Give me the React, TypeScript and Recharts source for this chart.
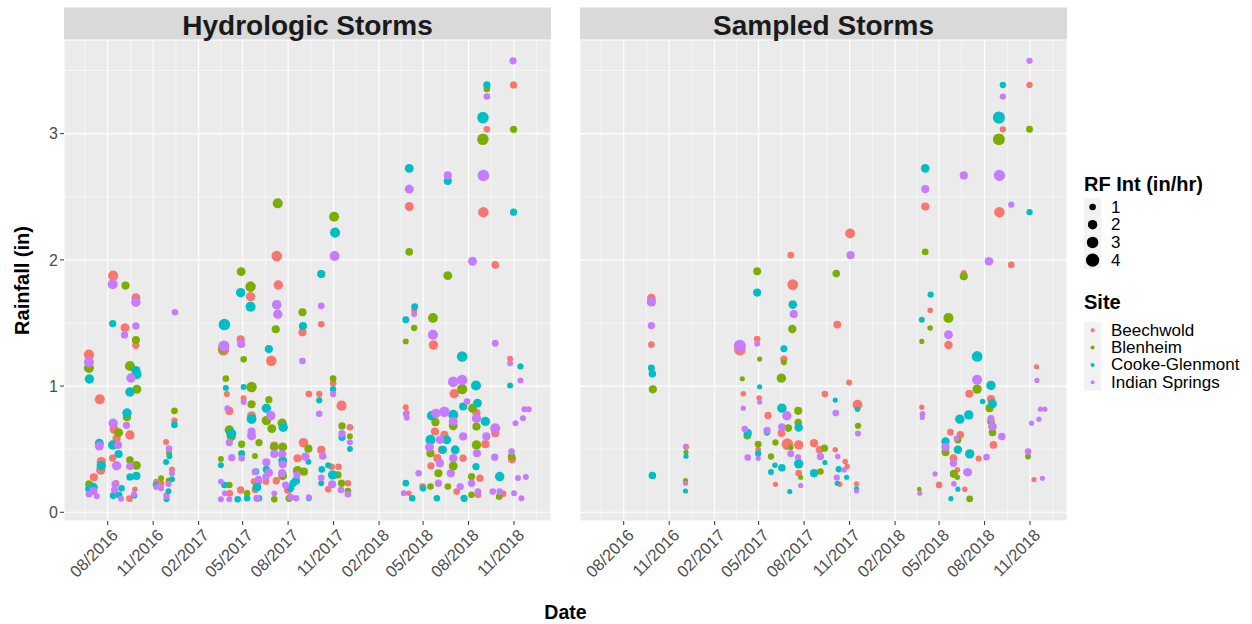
import { ScatterChart, Scatter, XAxis, YAxis, ZAxis, CartesianGrid, ReferenceLine } from "recharts";

// [date, rainfall (in), rainfall intensity (in/hr)]
type Pt = [string, number, number];

const hydroBeechwold: Pt[] = [
  ["2016-08-12", 1.875, 2.3], ["2016-09-27", 1.7, 1.8], ["2016-09-05", 1.463, 1.8], ["2016-09-27", 1.323, 1.2],
  ["2016-06-24", 1.249, 2.3], ["2016-07-16", 0.895, 2.3], ["2016-12-14", 0.726, 0.9], ["2016-08-14", 0.657, 1.8],
  ["2016-09-15", 0.612, 2.0], ["2016-08-19", 0.586, 1.5], ["2016-08-11", 0.43, 1.2], ["2016-07-19", 0.401, 2.0],
  ["2016-07-18", 0.335, 2.0], ["2016-07-04", 0.277, 1.5], ["2016-08-18", 0.23, 1.0], ["2016-08-14", 0.137, 1.0],
  ["2016-09-25", 0.182, 0.7], ["2016-09-14", 0.108, 1.0], ["2016-11-27", 0.557, 0.8], ["2016-12-09", 0.34, 0.8],
  ["2016-11-07", 0.243, 0.8], ["2016-11-18", 0.23, 0.8], ["2016-11-28", 0.135, 0.8],
  ["2017-07-09", 2.031, 2.5], ["2017-05-17", 1.708, 2.0], ["2017-07-12", 1.801, 2.0], ["2017-10-07", 1.49, 1.0],
  ["2017-03-23", 1.286, 2.8], ["2017-04-27", 1.371, 1.5], ["2017-06-28", 1.201, 2.5], ["2017-03-30", 0.937, 0.8],
  ["2017-04-04", 0.803, 1.5], ["2017-05-03", 0.903, 0.8], ["2017-05-19", 0.766, 1.8], ["2017-09-01", 0.552, 2.0],
  ["2017-11-17", 0.845, 2.3], ["2017-10-31", 1.022, 1.0], ["2017-10-03", 0.937, 0.9], ["2017-12-04", 0.674, 1.0],
  ["2017-10-07", 0.494, 1.5], ["2017-10-28", 0.361, 1.0], ["2017-11-11", 0.361, 1.0], ["2017-10-21", 0.182, 1.0],
  ["2017-11-30", 0.23, 1.0], ["2017-07-04", 0.528, 1.5], ["2017-08-20", 0.428, 1.5], ["2017-08-30", 1.426, 1.5],
  ["2017-04-05", 0.15, 1.0], ["2017-04-27", 0.177, 1.2], ["2017-05-24", 0.243, 1.0], ["2017-05-26", 0.177, 1.0],
  ["2017-06-03", 0.243, 1.0], ["2017-06-17", 0.243, 1.0], ["2017-07-08", 0.25, 1.2], ["2017-08-01", 0.177, 1.5],
  ["2017-09-12", 0.937, 1.0],
  ["2018-10-31", 3.386, 1.2], ["2018-09-07", 3.034, 1.0], ["2018-04-03", 2.423, 1.8], ["2018-08-31", 2.378, 2.5],
  ["2018-09-24", 1.96, 1.3], ["2018-04-13", 1.6, 0.8], ["2018-05-22", 1.325, 2.0], ["2018-10-24", 1.217, 0.8],
  ["2018-11-14", 1.156, 0.8], ["2018-07-03", 0.939, 2.0], ["2018-08-17", 0.786, 1.5], ["2018-09-24", 0.627, 1.5],
  ["2018-09-04", 0.54, 1.5], ["2018-05-25", 0.64, 1.5], ["2018-06-13", 0.614, 1.5], ["2018-06-08", 0.495, 1.5],
  ["2018-05-30", 0.429, 1.5], ["2018-05-17", 0.368, 1.2], ["2018-07-21", 0.429, 1.2], ["2018-10-28", 0.421, 1.5],
  ["2018-03-27", 0.833, 0.8], ["2018-03-29", 0.786, 0.8], ["2018-04-02", 0.151, 0.7], ["2018-04-30", 0.204, 1.0],
  ["2018-07-08", 0.164, 1.0], ["2018-08-24", 0.27, 1.2], ["2018-08-20", 0.138, 1.0], ["2018-10-10", 0.146, 1.0],
];

const hydroBlenheim: Pt[] = [
  ["2016-09-06", 1.796, 1.5], ["2016-09-27", 1.365, 1.5], ["2016-06-24", 1.143, 2.3], ["2016-09-15", 1.159, 2.3],
  ["2016-09-29", 0.975, 1.8], ["2016-12-14", 0.803, 1.0], ["2016-09-09", 0.753, 1.5], ["2016-08-23", 0.631, 1.8],
  ["2016-09-15", 0.414, 1.3], ["2016-09-28", 0.372, 1.8], ["2016-06-24", 0.224, 1.3], ["2016-12-03", 0.472, 0.8],
  ["2016-11-17", 0.269, 0.8], ["2016-12-02", 0.25, 0.8],
  ["2017-07-11", 2.448, 2.3], ["2017-11-02", 2.342, 2.3], ["2017-04-28", 1.907, 1.8], ["2017-05-17", 1.788, 2.5],
  ["2017-08-30", 1.585, 1.5], ["2017-07-07", 1.45, 1.5], ["2017-03-23", 1.3, 2.5], ["2017-05-03", 1.212, 1.0],
  ["2017-03-28", 1.059, 1.0], ["2017-05-19", 0.993, 2.5], ["2017-05-19", 0.856, 1.5], ["2017-06-23", 0.892, 1.2],
  ["2017-06-18", 0.726, 2.0], ["2017-06-29", 0.663, 1.8], ["2017-07-20", 0.705, 2.0], ["2017-04-04", 0.652, 2.0],
  ["2017-04-08", 0.599, 1.8], ["2017-04-29", 0.539, 1.2], ["2017-06-03", 0.552, 1.2], ["2017-09-11", 0.504, 1.5],
  ["2017-10-31", 1.059, 1.0], ["2017-11-18", 0.684, 1.2], ["2017-12-04", 0.602, 0.8], ["2017-03-18", 0.422, 0.8],
  ["2017-04-29", 0.465, 1.0], ["2017-05-26", 0.446, 0.8], ["2017-07-04", 0.518, 1.8], ["2017-07-21", 0.518, 1.8],
  ["2017-07-21", 0.29, 1.8], ["2017-08-20", 0.33, 2.0], ["2017-09-02", 0.322, 1.5], ["2017-11-10", 0.296, 1.2],
  ["2017-11-17", 0.23, 1.2], ["2017-11-30", 0.169, 1.0], ["2017-04-04", 0.216, 1.0], ["2017-05-10", 0.15, 1.0],
  ["2017-07-04", 0.103, 1.0], ["2017-08-03", 0.111, 1.2], ["2017-10-07", 1.888, 1.3],
  ["2018-09-07", 3.354, 1.0], ["2018-08-30", 2.955, 3.0], ["2018-10-31", 3.034, 1.2], ["2018-04-03", 2.063, 1.3],
  ["2018-06-20", 1.875, 1.8], ["2018-04-13", 1.46, 0.9], ["2018-03-27", 1.354, 0.8], ["2018-05-21", 1.54, 2.2],
  ["2018-07-19", 0.976, 2.5], ["2018-08-09", 0.824, 1.8], ["2018-05-26", 0.714, 1.5], ["2018-07-01", 0.685, 1.8],
  ["2018-08-17", 0.68, 1.5], ["2018-05-16", 0.467, 1.5], ["2018-07-01", 0.367, 1.8], ["2018-06-01", 0.309, 1.5],
  ["2018-08-17", 0.534, 2.0], ["2018-10-27", 0.442, 1.3], ["2018-05-16", 0.204, 1.0], ["2018-06-20", 0.204, 1.0],
  ["2018-08-07", 0.283, 1.2], ["2018-08-07", 0.138, 1.0], ["2018-10-02", 0.124, 1.0],
];

const hydroCooke: Pt[] = [
  ["2016-08-11", 1.495, 1.2], ["2016-06-25", 1.056, 2.0], ["2016-09-27", 1.122, 2.0], ["2016-09-29", 1.093, 2.0],
  ["2016-09-15", 0.953, 2.0], ["2016-12-14", 0.692, 1.0], ["2016-09-09", 0.787, 2.0], ["2016-07-15", 0.547, 1.8],
  ["2016-08-11", 0.533, 2.0], ["2016-08-23", 0.462, 1.5], ["2016-07-19", 0.369, 2.0], ["2016-09-15", 0.28, 1.2],
  ["2016-09-28", 0.288, 1.5], ["2016-07-03", 0.198, 1.8], ["2016-06-24", 0.187, 1.3], ["2016-08-29", 0.19, 1.0],
  ["2016-08-12", 0.132, 1.0], ["2016-08-24", 0.137, 1.0], ["2016-09-24", 0.132, 0.8], ["2016-12-04", 0.444, 0.8],
  ["2016-11-27", 0.399, 0.8], ["2016-12-09", 0.261, 0.8], ["2016-11-06", 0.219, 0.8], ["2016-12-02", 0.166, 0.8],
  ["2016-11-28", 0.103, 0.8],
  ["2017-11-04", 2.216, 2.3], ["2017-04-27", 1.74, 2.0], ["2017-05-17", 1.629, 2.3], ["2017-10-07", 1.888, 1.5],
  ["2017-03-25", 1.487, 3.0], ["2017-08-31", 1.476, 1.5], ["2017-06-23", 1.294, 1.5], ["2017-07-09", 1.643, 1.8],
  ["2017-03-28", 0.985, 0.8], ["2017-05-03", 0.993, 0.8], ["2017-05-19", 0.739, 2.2], ["2017-06-18", 0.824, 2.0],
  ["2017-07-22", 0.674, 2.0], ["2017-04-08", 0.623, 2.3], ["2017-09-11", 0.401, 0.8], ["2017-10-31", 0.975, 0.9],
  ["2017-10-03", 0.887, 0.9], ["2017-11-18", 0.594, 1.2], ["2017-12-04", 0.502, 0.8], ["2017-10-08", 0.34, 1.0],
  ["2017-10-07", 0.23, 0.8], ["2017-10-21", 0.372, 0.8], ["2017-10-30", 0.296, 2.0], ["2017-03-18", 0.372, 0.8],
  ["2017-04-29", 0.465, 1.0], ["2017-05-28", 0.322, 1.0], ["2017-06-18", 0.34, 1.2], ["2017-07-21", 0.41, 1.8],
  ["2017-08-17", 0.25, 1.5], ["2017-08-11", 0.23, 1.2], ["2017-08-06", 0.19, 1.2], ["2017-03-25", 0.216, 1.0],
  ["2017-04-21", 0.103, 1.0], ["2017-05-10", 0.111, 1.0], ["2017-05-30", 0.2, 1.8], ["2017-06-03", 0.111, 1.0],
  ["2017-09-12", 0.111, 0.8],
  ["2018-09-07", 3.386, 1.2], ["2018-08-30", 3.127, 3.0], ["2018-04-03", 2.725, 1.8], ["2018-06-20", 2.625, 1.5],
  ["2018-10-31", 2.378, 1.2], ["2018-04-14", 1.629, 1.1], ["2018-03-27", 1.526, 1.1], ["2018-07-19", 1.235, 2.5],
  ["2018-11-14", 1.156, 0.8], ["2018-10-24", 1.005, 0.8], ["2018-08-16", 1.005, 2.3], ["2018-08-19", 0.865, 1.8],
  ["2018-07-21", 0.838, 1.5], ["2018-05-18", 0.765, 2.0], ["2018-07-01", 0.772, 2.3], ["2018-09-04", 0.72, 2.0],
  ["2018-05-16", 0.574, 2.3], ["2018-06-18", 0.574, 1.8], ["2018-07-05", 0.495, 1.8], ["2018-06-10", 0.495, 1.5],
  ["2018-08-16", 0.362, 1.2], ["2018-10-03", 0.283, 2.0], ["2018-03-27", 0.231, 1.0], ["2018-04-09", 0.111, 1.0],
  ["2018-05-01", 0.19, 1.0], ["2018-05-29", 0.111, 1.0], ["2018-07-23", 0.111, 1.2],
];

const hydroIndian: Pt[] = [
  ["2016-08-11", 1.807, 2.3], ["2016-09-27", 1.664, 2.0], ["2016-12-15", 1.585, 1.0], ["2016-09-04", 1.405, 1.2],
  ["2016-09-27", 1.476, 1.2], ["2016-06-24", 1.19, 2.3], ["2016-09-17", 1.064, 2.0], ["2016-08-12", 0.705, 2.0],
  ["2016-09-08", 0.689, 1.2], ["2016-07-15", 0.525, 1.8], ["2016-08-22", 0.533, 1.5], ["2016-08-19", 0.369, 2.0],
  ["2016-09-15", 0.364, 1.3], ["2016-07-03", 0.169, 1.5], ["2016-06-24", 0.143, 1.0], ["2016-07-10", 0.127, 0.8],
  ["2016-08-16", 0.224, 1.2], ["2016-08-15", 0.177, 1.2], ["2016-08-28", 0.108, 0.8], ["2016-09-23", 0.143, 0.8],
  ["2016-12-03", 0.504, 1.0], ["2016-12-09", 0.309, 0.8], ["2016-11-07", 0.2, 0.8], ["2016-11-17", 0.19, 0.8],
  ["2016-12-02", 0.224, 0.8], ["2016-11-28", 0.124, 0.8],
  ["2017-11-03", 2.031, 2.3], ["2017-07-09", 1.645, 2.0], ["2017-07-11", 1.569, 2.0], ["2017-10-07", 1.635, 1.0],
  ["2017-08-30", 1.199, 1.0], ["2017-03-24", 1.318, 2.8], ["2017-04-28", 1.334, 1.5], ["2017-03-31", 0.824, 0.8],
  ["2017-05-03", 0.874, 0.8], ["2017-06-27", 0.766, 2.0], ["2017-04-04", 0.552, 1.2], ["2017-05-19", 0.639, 1.5],
  ["2017-05-19", 0.605, 1.8], ["2017-09-05", 0.441, 1.5], ["2017-10-31", 0.937, 0.9], ["2017-10-03", 0.781, 1.0],
  ["2017-11-18", 0.623, 1.2], ["2017-12-04", 0.555, 0.8], ["2017-10-10", 0.446, 1.3], ["2017-10-07", 0.274, 1.0],
  ["2017-10-29", 0.222, 1.5], ["2017-11-16", 0.177, 1.0], ["2017-11-30", 0.143, 1.0], ["2017-04-09", 0.433, 1.2],
  ["2017-04-29", 0.428, 1.0], ["2017-05-26", 0.32, 1.0], ["2017-06-18", 0.396, 1.5], ["2017-06-23", 0.314, 1.5],
  ["2017-06-17", 0.28, 1.2], ["2017-07-04", 0.462, 1.5], ["2017-07-20", 0.462, 1.5], ["2017-07-21", 0.38, 1.5],
  ["2017-07-20", 0.31, 1.5], ["2017-08-19", 0.296, 1.2], ["2017-03-18", 0.243, 0.8], ["2017-03-26", 0.15, 0.8],
  ["2017-03-18", 0.103, 0.8], ["2017-04-04", 0.103, 0.8], ["2017-05-30", 0.111, 1.2], ["2017-06-02", 0.26, 1.2],
  ["2017-07-04", 0.15, 0.8], ["2017-07-27", 0.216, 1.2], ["2017-08-06", 0.12, 1.0], ["2017-08-17", 0.111, 1.0],
  ["2017-09-12", 0.12, 0.8],
  ["2018-10-30", 3.577, 1.2], ["2018-09-07", 3.294, 1.0], ["2018-04-03", 2.561, 1.8], ["2018-06-20", 2.669, 1.5],
  ["2018-08-31", 2.669, 3.0], ["2018-08-09", 1.989, 1.8], ["2018-04-13", 1.571, 0.8], ["2018-05-21", 1.407, 2.3],
  ["2018-09-24", 1.34, 1.1], ["2018-10-24", 1.18, 0.8], ["2018-11-14", 1.045, 0.8], ["2018-07-01", 1.035, 2.5],
  ["2018-07-19", 1.048, 2.5], ["2018-07-29", 0.877, 1.0], ["2018-06-13", 0.797, 2.5], ["2018-05-27", 0.784, 2.0],
  ["2018-07-01", 0.72, 1.8], ["2018-08-17", 0.745, 2.0], ["2018-09-24", 0.666, 2.3], ["2018-09-06", 0.601, 1.5],
  ["2018-07-21", 0.601, 1.5], ["2018-06-04", 0.574, 1.5], ["2018-05-14", 0.516, 1.8], ["2018-08-18", 0.468, 1.5],
  ["2018-07-01", 0.429, 1.5], ["2018-06-04", 0.389, 1.5], ["2018-06-26", 0.309, 1.5], ["2018-09-23", 0.437, 1.2],
  ["2018-10-27", 0.481, 1.0], ["2018-03-27", 0.78, 0.8], ["2018-03-29", 0.75, 0.8], ["2018-04-22", 0.309, 1.0],
  ["2018-03-23", 0.151, 0.8], ["2018-06-01", 0.23, 1.2], ["2018-07-15", 0.204, 1.2], ["2018-08-07", 0.23, 1.2],
  ["2018-08-20", 0.164, 1.0], ["2018-09-19", 0.164, 1.0], ["2018-10-03", 0.164, 1.0], ["2018-11-01", 0.151, 0.8],
  ["2018-11-16", 0.111, 0.8], ["2018-11-09", 0.272, 0.8], ["2018-11-25", 0.28, 0.8], ["2018-11-04", 0.705, 0.8],
  ["2018-11-19", 0.745, 0.8], ["2018-11-22", 0.816, 0.8], ["2018-12-01", 0.816, 0.8],
];

const sampBeechwold: Pt[] = [
  ["2016-09-26", 1.698, 1.7], ["2016-09-26", 1.328, 1.0], ["2016-12-05", 0.52, 0.8],
  ["2017-03-24", 1.288, 3.0], ["2017-04-28", 1.373, 1.0], ["2017-05-02", 0.905, 0.7], ["2017-04-30", 0.495, 0.7],
  ["2017-03-31", 0.939, 0.7], ["2017-05-20", 0.767, 1.2], ["2017-06-21", 1.214, 1.2], ["2017-06-16", 0.627, 1.3],
  ["2017-07-05", 2.037, 1.0], ["2017-07-09", 1.804, 2.6], ["2017-06-28", 0.54, 3.0], ["2017-07-21", 0.534, 2.0],
  ["2017-07-19", 0.434, 0.7], ["2017-07-21", 0.31, 1.0], ["2017-08-21", 0.548, 1.5], ["2017-09-01", 0.495, 1.3],
  ["2017-09-12", 0.937, 1.0], ["2017-06-04", 0.222, 0.6], ["2017-10-07", 1.487, 1.4], ["2017-10-03", 0.495, 0.7],
  ["2017-10-23", 0.402, 0.7], ["2017-10-27", 0.362, 0.7], ["2017-10-12", 0.222, 0.7], ["2017-11-02", 2.209, 2.2],
  ["2017-10-31", 1.029, 0.8], ["2017-11-17", 0.852, 2.2], ["2017-11-15", 0.225, 0.6],
  ["2018-04-03", 2.423, 1.5], ["2018-04-13", 1.6, 0.7], ["2018-03-27", 0.833, 0.6], ["2018-03-29", 0.78, 0.6],
  ["2018-05-20", 1.325, 1.6], ["2018-06-20", 1.897, 0.8], ["2018-05-01", 0.217, 1.0], ["2018-05-24", 0.635, 1.0],
  ["2018-06-13", 0.614, 1.3], ["2018-05-30", 0.429, 1.3], ["2018-06-07", 0.336, 0.7], ["2018-06-22", 0.183, 0.7],
  ["2018-07-01", 0.939, 1.4], ["2018-07-20", 0.426, 0.8], ["2018-08-14", 0.897, 1.5], ["2018-08-19", 0.534, 1.3],
  ["2018-08-31", 2.378, 2.5], ["2018-09-07", 3.034, 0.9], ["2018-09-24", 1.96, 1.0], ["2018-10-31", 3.386, 0.9],
  ["2018-11-14", 1.153, 0.6], ["2018-11-09", 0.259, 0.6],
];

const sampBlenheim: Pt[] = [
  ["2016-09-29", 0.974, 1.5], ["2016-12-05", 0.476, 0.6], ["2016-12-04", 0.251, 0.6],
  ["2017-04-28", 1.91, 1.4], ["2017-05-03", 1.214, 0.6], ["2017-03-29", 1.058, 0.6], ["2017-06-16", 1.063, 2.0],
  ["2017-06-21", 1.188, 0.8], ["2017-04-08", 0.606, 1.3], ["2017-04-30", 0.54, 1.1], ["2017-05-26", 0.442, 0.9],
  ["2017-06-04", 0.553, 0.9], ["2017-06-30", 0.667, 1.3], ["2017-07-08", 1.452, 1.6], ["2017-07-20", 0.804, 1.5],
  ["2017-07-20", 0.712, 1.3], ["2017-07-05", 0.513, 0.7], ["2017-07-25", 0.278, 0.6], ["2017-09-03", 0.323, 1.0],
  ["2017-09-11", 0.508, 1.2], ["2017-10-05", 1.891, 1.3], ["2017-11-18", 0.685, 0.9],
  ["2018-04-03", 2.063, 1.0], ["2018-04-13", 1.46, 0.7], ["2018-03-27", 1.354, 0.6], ["2018-05-20", 1.54, 2.3],
  ["2018-03-22", 0.183, 0.5], ["2018-06-20", 1.87, 1.5], ["2018-05-14", 0.476, 1.4], ["2018-05-31", 0.304, 1.5],
  ["2018-06-07", 0.278, 0.7], ["2018-06-08", 0.574, 1.2], ["2018-07-02", 0.106, 1.0], ["2018-07-17", 0.976, 2.0],
  ["2018-08-11", 0.825, 1.5], ["2018-08-14", 0.72, 1.3], ["2018-08-17", 0.632, 1.3], ["2018-08-30", 2.955, 3.2],
  ["2018-10-31", 3.034, 1.1], ["2018-10-28", 0.442, 0.8],
];

const sampCooke: Pt[] = [
  ["2016-09-26", 1.143, 1.1], ["2016-09-28", 1.098, 1.3], ["2016-09-28", 0.291, 1.3], ["2016-12-05", 0.444, 0.6],
  ["2016-12-04", 0.169, 0.6],
  ["2017-04-28", 1.741, 1.5], ["2017-05-03", 0.995, 0.6], ["2017-06-21", 1.296, 1.1], ["2017-04-09", 0.627, 1.5],
  ["2017-04-30", 0.466, 0.9], ["2017-05-18", 0.632, 0.9], ["2017-06-17", 0.825, 2.0], ["2017-07-21", 0.672, 1.6],
  ["2017-07-21", 0.384, 2.0], ["2017-07-09", 1.646, 1.7], ["2017-06-03", 0.373, 0.7], ["2017-05-26", 0.32, 0.8],
  ["2017-06-17", 0.352, 1.3], ["2017-07-03", 0.164, 0.6], ["2017-08-21", 0.31, 1.5], ["2017-09-12", 0.394, 0.6],
  ["2017-10-03", 0.889, 0.6], ["2017-10-10", 0.341, 0.9], ["2017-10-07", 0.23, 0.6], ["2017-10-26", 0.278, 0.6],
  ["2017-11-17", 0.817, 0.7], ["2017-11-15", 0.185, 0.6],
  ["2018-04-03", 2.725, 1.7], ["2018-04-14", 1.725, 0.9], ["2018-03-27", 1.526, 0.8], ["2018-05-14", 0.561, 1.6],
  ["2018-06-08", 0.495, 1.6], ["2018-06-12", 0.738, 2.0], ["2018-06-30", 0.772, 2.0], ["2018-07-02", 0.463, 2.0],
  ["2018-05-25", 0.108, 0.6], ["2018-06-08", 0.183, 0.6], ["2018-06-26", 0.317, 1.0], ["2018-07-17", 1.235, 2.6],
  ["2018-07-28", 0.878, 0.7], ["2018-08-14", 1.005, 2.0], ["2018-08-17", 0.86, 1.8], ["2018-08-30", 3.127, 3.3],
  ["2018-09-07", 3.386, 0.9], ["2018-10-31", 2.378, 0.9],
];

const sampIndian: Pt[] = [
  ["2016-09-26", 1.667, 2.0], ["2016-09-26", 1.479, 1.2], ["2016-12-05", 0.516, 0.6], ["2016-12-04", 0.23, 0.6],
  ["2017-03-24", 1.32, 3.3], ["2017-04-28", 1.336, 0.8], ["2017-03-31", 0.825, 0.6], ["2017-05-03", 0.873, 0.6],
  ["2017-04-03", 0.659, 1.0], ["2017-04-09", 0.434, 1.0], ["2017-04-30", 0.429, 0.6], ["2017-05-18", 0.648, 1.2],
  ["2017-06-17", 0.675, 1.3], ["2017-06-27", 0.765, 2.0], ["2017-07-05", 0.463, 1.1], ["2017-07-20", 0.437, 0.8],
  ["2017-07-11", 1.571, 1.5], ["2017-07-25", 0.212, 0.6], ["2017-09-03", 0.442, 1.2], ["2017-10-04", 0.786, 1.0],
  ["2017-10-08", 0.442, 0.7], ["2017-10-21", 0.336, 0.6], ["2017-10-06", 0.275, 0.9], ["2017-11-03", 2.037, 1.5],
  ["2017-11-18", 0.624, 0.8], ["2017-11-15", 0.169, 0.6],
  ["2018-04-03", 2.561, 1.5], ["2018-06-20", 2.669, 1.5], ["2018-08-10", 1.989, 1.7], ["2018-08-31", 2.669, 2.8],
  ["2018-09-07", 3.294, 0.9], ["2018-09-24", 2.437, 0.9], ["2018-10-31", 3.577, 0.9], ["2018-03-28", 0.78, 0.6],
  ["2018-03-28", 0.751, 0.6], ["2018-03-23", 0.151, 0.6], ["2018-04-23", 0.304, 0.6], ["2018-05-20", 1.407, 1.8],
  ["2018-05-14", 0.516, 1.5], ["2018-06-05", 0.587, 0.7], ["2018-05-30", 0.389, 1.2], ["2018-05-31", 0.225, 0.7],
  ["2018-06-28", 0.317, 1.7], ["2018-07-17", 1.05, 2.3], ["2018-08-05", 0.437, 1.0], ["2018-08-14", 0.741, 1.2],
  ["2018-08-17", 0.68, 1.7], ["2018-09-05", 0.601, 1.3], ["2018-10-28", 0.481, 1.0], ["2018-11-04", 0.706, 0.6],
  ["2018-11-15", 1.045, 0.6], ["2018-11-19", 0.738, 0.6], ["2018-11-22", 0.817, 0.6], ["2018-12-01", 0.817, 0.6],
  ["2018-11-26", 0.27, 0.6],
];

const siteNames = ["Beechwold", "Blenheim", "Cooke-Glenmont", "Indian Springs"];
const siteColors = ["#F8766D", "#7CAE00", "#00BFC4", "#C77CFF"];
const panelTitles = ["Hydrologic Storms", "Sampled Storms"];
const xTickDates = [
  "2016-08-01", "2016-11-01", "2017-02-01", "2017-05-01", "2017-08-01",
  "2017-11-01", "2018-02-01", "2018-05-01", "2018-08-01", "2018-11-01",
];
const yTicks = [0, 1, 2, 3];
const yMinor = [0.5, 1.5, 2.5, 3.5];
const sizeBreaks = [1, 2, 3, 4];

const FONT = "'Liberation Sans', Arial, sans-serif";
const DAY = 86400000;
const xTicks = xTickDates.map((d) => Date.parse(d));
const xMin = xTicks[0] - 88.4 * DAY;
const xMax = xTicks[0] + 896.8 * DAY;
const xMinor = [
  xTicks[0] - (xTicks[1] - xTicks[0]) / 2,
  ...xTicks.slice(1).map((t, i) => (t + xTicks[i]) / 2),
  xTicks[xTicks.length - 1] + (xTicks[xTicks.length - 1] - xTicks[xTicks.length - 2]) / 2,
];
const Z_DOMAIN: [number, number] = [0, 4];
const Z_RANGE: [number, number] = [0, 139];
const radius = (v: number) => Math.sqrt(((v / Z_DOMAIN[1]) * Z_RANGE[1]) / Math.PI);

const toRows = (pts: Pt[]) => pts.map(([d, r, i]) => ({ x: Date.parse(d), y: r, z: i }));
const hydroSeries = [hydroBeechwold, hydroBlenheim, hydroCooke, hydroIndian].map(toRows);
const sampledSeries = [sampBeechwold, sampBlenheim, sampCooke, sampIndian].map(toRows);

const fmtDate = (t: number) => {
  const d = new Date(t);
  return `${String(d.getUTCMonth() + 1).padStart(2, "0")}/${d.getUTCFullYear()}`;
};

// rotated 45deg, right end hanging just below the tick
const DateTick = (props: any) => {
  const { x, y, payload } = props;
  const ax = x + 3;
  const ay = y + 2;
  return (
    <text x={ax} y={ay} dy="0.71em" textAnchor="end" fontSize={16.5} fill="#4D4D4D"
      transform={`rotate(-45 ${ax} ${ay})`}>
      {fmtDate(payload.value)}
    </text>
  );
};

interface PanelProps {
  left: number;
  width: number;
  showY: boolean;
  series: { x: number; y: number; z: number }[][];
}

const Panel = ({ left, width, showY, series }: PanelProps) => (
  <div style={{ position: "absolute", left, top: 0 }}>
    <ScatterChart width={width} height={624} margin={{ top: 40, right: 9, bottom: 0, left: 0 }}>
      <CartesianGrid fill="#EBEBEB" stroke="#FFFFFF" strokeWidth={1.1} />
      {xMinor.map((m) => (
        <ReferenceLine key={`vx${m}`} x={m} stroke="#FFFFFF" strokeWidth={0.55} />
      ))}
      {yMinor.map((m) => (
        <ReferenceLine key={`hy${m}`} y={m} stroke="#FFFFFF" strokeWidth={0.55} />
      ))}
      <XAxis type="number" dataKey="x" domain={[xMin, xMax]} ticks={xTicks} interval={0}
        allowDataOverflow height={103} tickSize={4} tickMargin={1} axisLine={false}
        tickLine={{ stroke: "#333333" }} tick={DateTick} />
      <YAxis type="number" dataKey="y" domain={[-0.069, 3.742]} ticks={yTicks} interval={0}
        allowDataOverflow hide={!showY} width={64} tickSize={4} tickMargin={2} axisLine={false}
        tickLine={{ stroke: "#333333" }} tick={{ fill: "#4D4D4D", fontSize: 16 }} />
      <ZAxis type="number" dataKey="z" domain={Z_DOMAIN} range={Z_RANGE} />
      {series.map((rows, i) => (
        <Scatter key={siteNames[i]} name={siteNames[i]} data={rows} fill={siteColors[i]}
          isAnimationActive={false} />
      ))}
    </ScatterChart>
  </div>
);

const App = () => {
  const strips = [
    { x: 64, w: 487 },
    { x: 580, w: 487 },
  ];
  return (
    <div style={{ position: "absolute", left: 0, top: 0, width: 1252, height: 624, background: "#FFFFFF", fontFamily: FONT }}>
      <Panel left={0} width={560} showY={true} series={hydroSeries} />
      <Panel left={580} width={496} showY={false} series={sampledSeries} />
      <svg width={1252} height={624} style={{ position: "absolute", left: 0, top: 0, pointerEvents: "none" }}>
        {strips.map((s, i) => (
          <g key={panelTitles[i]}>
            <rect x={s.x} y={7.5} width={s.w} height={32} fill="#D9D9D9" />
            <text x={s.x + s.w / 2} y={35} textAnchor="middle" fontSize={28} fontWeight="bold" fill="#1A1A1A">
              {panelTitles[i]}
            </text>
          </g>
        ))}
        <text transform="translate(28.5 280.5) rotate(-90)" textAnchor="middle" fontSize={20} fontWeight="bold" fill="#000">
          Rainfall (in)
        </text>
        <text x={565.5} y={619} textAnchor="middle" fontSize={19.5} fontWeight="bold" fill="#000">
          Date
        </text>

        <text x={1084} y={191} fontSize={20} fontWeight="bold" fill="#000">RF Int (in/hr)</text>
        {sizeBreaks.map((b, i) => {
          const cy = 207 + i * 17.7;
          return (
            <g key={`size${b}`}>
              <rect x={1084} y={cy - 8.6} width={17.3} height={17.3} fill="#F2F2F2" />
              <circle cx={1092.6} cy={cy} r={radius(b)} fill="#000" />
              <text x={1111} y={cy} dominantBaseline="central" fontSize={17} fill="#000">{b}</text>
            </g>
          );
        })}

        <text x={1084} y={309.3} fontSize={20} fontWeight="bold" fill="#000">Site</text>
        {siteNames.map((n, i) => {
          const cy = 330.3 + i * 17.3;
          return (
            <g key={n}>
              <rect x={1084} y={cy - 8.6} width={17.3} height={17.3} fill="#F2F2F2" />
              <circle cx={1092.6} cy={cy} r={2} fill={siteColors[i]} />
              <text x={1111} y={cy} dominantBaseline="central" fontSize={17} fill="#000">{n}</text>
            </g>
          );
        })}
      </svg>
    </div>
  );
};

export default App;
